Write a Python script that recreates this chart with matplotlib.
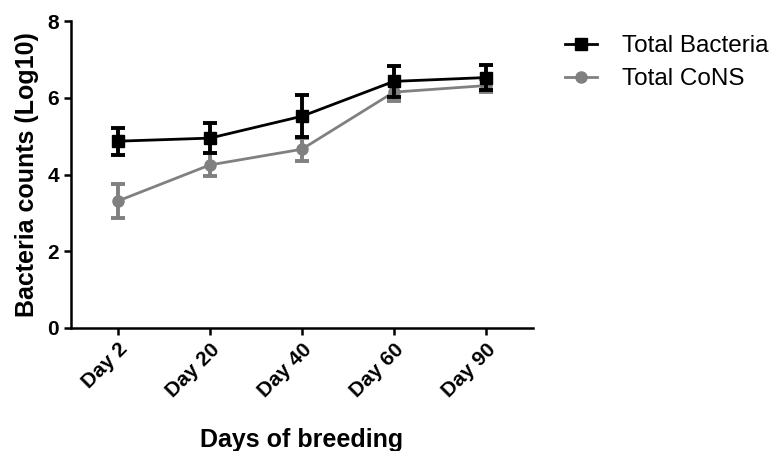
import numpy as np
import matplotlib.pyplot as plt
from matplotlib.lines import Line2D

days = ['Day 2', 'Day 20', 'Day 40', 'Day 60', 'Day 90']
bacteria = [4.87, 4.95, 5.52, 6.43, 6.53]
bacteria_err = [0.35, 0.40, 0.55, 0.40, 0.32]
cons = [3.31, 4.25, 4.66, 6.15, 6.32]
cons_err = [0.45, 0.30, 0.30, 0.22, 0.16]

plt.rcParams['font.family'] = ['Liberation Sans', 'DejaVu Sans']

fig = plt.figure(figsize=(7.72, 4.51), dpi=100)
ax = fig.add_axes([0.092, 0.273, 0.598, 0.68])

x = np.arange(len(days))

ax.errorbar(x, cons, yerr=cons_err, color='#808080', marker='o', markersize=8,
            linewidth=2, elinewidth=2.8, capsize=5, capthick=2.8, zorder=2)
ax.errorbar(x, bacteria, yerr=bacteria_err, color='black', marker='s', markersize=8,
            linewidth=2, elinewidth=2.8, capsize=5, capthick=2.8, zorder=3)

ax.set_xlim(-0.51, 4.51)
ax.set_ylim(0, 8)
ax.set_yticks([0, 2, 4, 6, 8])
ax.set_xticks(x)
ax.set_xticklabels(days, rotation=45, ha='right', rotation_mode='anchor',
                   fontsize=15, fontweight='bold')
for lbl in ax.get_yticklabels():
    lbl.set_fontsize(15)
    lbl.set_fontweight('bold')

for s in ['top', 'right']:
    ax.spines[s].set_visible(False)
for s in ['left', 'bottom']:
    ax.spines[s].set_linewidth(1.8)
ax.tick_params(width=1.8, length=5, direction='out')

ax.set_ylabel('Bacteria counts (Log10)', fontsize=18, fontweight='bold', labelpad=6)
ax.set_xlabel('Days of breeding', fontsize=18, fontweight='bold', labelpad=20)

handles = [Line2D([], [], color='black', marker='s', markersize=8, linewidth=2),
           Line2D([], [], color='#808080', marker='o', markersize=8, linewidth=2)]
fig.legend(handles, ['Total Bacteria', 'Total CoNS'], loc='upper left',
           bbox_to_anchor=(0.703, 0.97), frameon=False, fontsize=17.5,
           handlelength=1.35, handletextpad=1.0, labelspacing=0.45)

fig.savefig('out.png', dpi=100)
